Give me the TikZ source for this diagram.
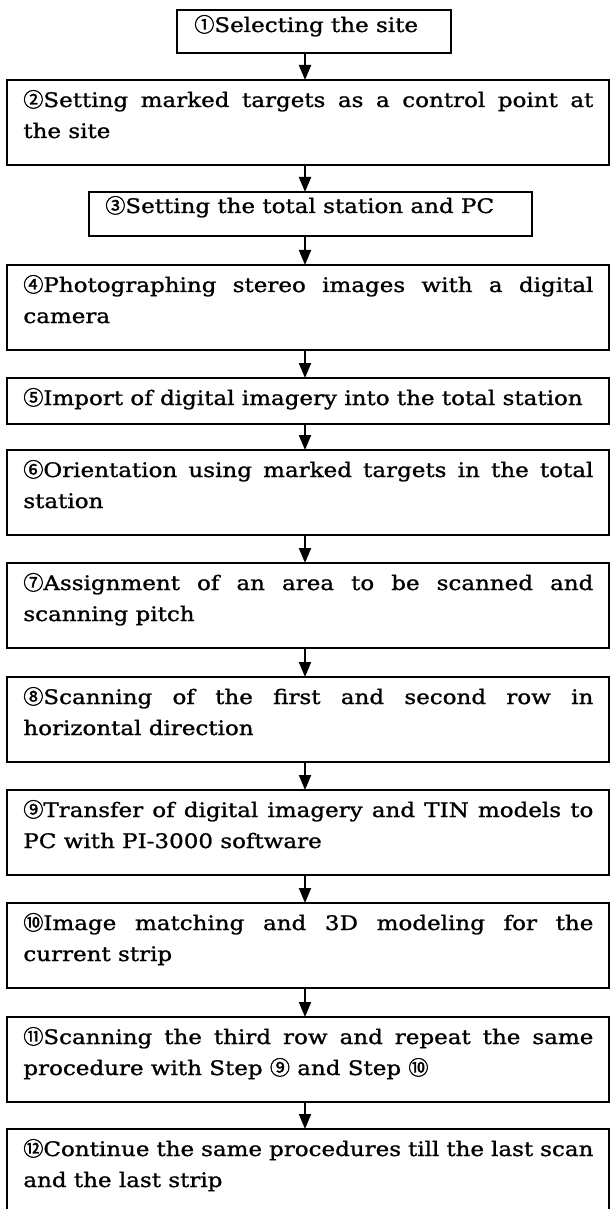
\documentclass[tikz,border=0pt]{standalone}
\usepackage{fontspec}
\setmainfont{DejaVu Serif}[FakeStretch=1.15, FakeBold=1.2]
\newfontfamily\circfont{Noto Sans CJK JP}[FakeBold=1.6]
\usetikzlibrary{arrows.meta}
\tikzset{
 box/.style={draw, line width=1pt, outer sep=0pt, inner sep=0pt, anchor=north west},
 wide/.style={box, minimum width=301pt, minimum height=42.5pt},
 txt/.style={anchor=base west, inner sep=0pt, font=\fontsize{10}{12}\selectfont},
 flow/.style={-{Triangle[length=7.5pt,width=6pt]}, line width=1pt},
}
\newcommand\cn[1]{{\circfont #1}}
\newcommand\jl[1]{\makebox[285pt][s]{#1}}
\begin{document}
\begin{tikzpicture}[x=0.5pt,y=-0.5pt]
\useasboundingbox (0,0) rectangle (610,1209);
\coordinate (ax) at (305,0);
% boxes
\node[box, minimum width=137pt, minimum height=21.5pt] (b1) at (177,10) {};
\node[wide] (b2) at (7,80) {};
\node[box, minimum width=221.5pt, minimum height=22pt] (b3) at (89,192) {};
\node[wide] (b4) at (7,265) {};
\node[box, minimum width=301pt, minimum height=23pt] (b5) at (7,378) {};
\node[wide] (b6) at (7,450) {};
\node[wide] (b7) at (7,563) {};
\node[wide] (b8) at (7,677) {};
\node[wide] (b9) at (7,790) {};
\node[wide] (b10) at (7,903) {};
\node[wide] (b11) at (7,1017) {};
\node[wide] (b12) at (7,1129) {};
% texts
\node[txt] (t1) at (194,32) {\cn{①}Selecting the site};
\node[txt] (t2a) at (23,107) {\jl{\cn{②}Setting marked targets as a control point at}};
\node[txt] (t2b) at (23,138) {the site};
\node[txt] (t3) at (105,213) {\cn{③}Setting the total station and PC};
\node[txt] (t4a) at (23,292) {\jl{\cn{④}Photographing stereo images with a digital}};
\node[txt] (t4b) at (23,323) {camera};
\node[txt] (t5) at (23,405) {\cn{⑤}Import of digital imagery into the total station};
\node[txt] (t6a) at (23,477) {\jl{\cn{⑥}Orientation using marked targets in the total}};
\node[txt] (t6b) at (23,508) {station};
\node[txt] (t7a) at (23,590) {\jl{\cn{⑦}Assignment of an area to be scanned and}};
\node[txt] (t7b) at (23,621) {scanning pitch};
\node[txt] (t8a) at (23,704) {\jl{\cn{⑧}Scanning of the first and second row in}};
\node[txt] (t8b) at (23,735) {horizontal direction};
\node[txt] (t9a) at (23,817) {\jl{\cn{⑨}Transfer of digital imagery and TIN models to}};
\node[txt] (t9b) at (23,848) {PC with PI-3000 software};
\node[txt] (t10a) at (23,930) {\jl{\cn{⑩}Image matching and 3D modeling for the}};
\node[txt] (t10b) at (23,961) {current strip};
\node[txt] (t11a) at (23,1044) {\jl{\cn{⑪}Scanning the third row and repeat the same}};
\node[txt] (t11b) at (23,1075) {procedure with Step \cn{⑨} and Step \cn{⑩}};
\node[txt] (t12a) at (23,1156) {\jl{\cn{⑫}Continue the same procedures till the last scan}};
\node[txt] (t12b) at (23,1187) {and the last strip};
% arrows
\foreach \a/\b in {b1/b2,b2/b3,b3/b4,b4/b5,b5/b6,b6/b7,b7/b8,b8/b9,b9/b10,b10/b11,b11/b12}
  \draw[flow] (\a.south -| ax) -- (\b.north -| ax);
\end{tikzpicture}
\end{document}
